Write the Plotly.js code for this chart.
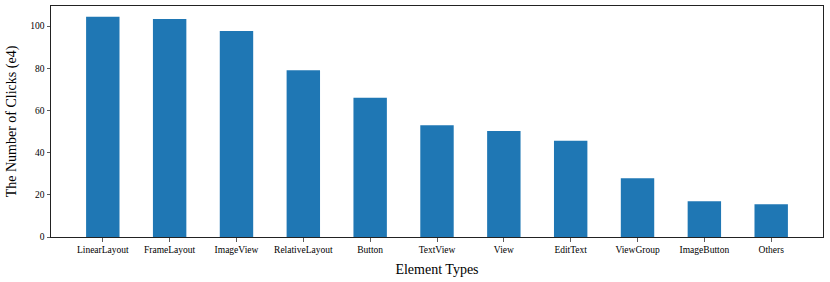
<!DOCTYPE html>
<html>
<head>
<meta charset="utf-8">
<script src="https://cdn.plot.ly/plotly-3.0.1.min.js"></script>
<style>html,body{margin:0;padding:0;background:#fff;}#chart{width:830px;height:282px;}</style>
</head>
<body>
<div id="chart"></div>
<script>
const categories = ["LinearLayout","FrameLayout","ImageView","RelativeLayout","Button","TextView","View","EditText","ViewGroup","ImageButton","Others"];
const clicks = [104.4, 103.3, 97.6, 79.1, 66.0, 53.0, 50.3, 45.6, 27.9, 16.9, 15.5];
const yTicks = [0, 20, 40, 60, 80, 100];

const font = "Liberation Serif, Times New Roman, serif";
const trace = {
  type: "bar",
  x: categories.map((_, i) => i),
  y: clicks,
  width: 0.5,
  marker: {color: "#1f77b4", line: {width: 0}},
  hoverinfo: "skip"
};
const layout = {
  width: 830, height: 282,
  margin: {l: 51, r: 7, t: 6, b: 45},
  paper_bgcolor: "#fff", plot_bgcolor: "#fff",
  showlegend: false,
  font: {family: font, color: "#000"},
  xaxis: {
    range: [-0.775, 10.775],
    tickmode: "array", tickvals: categories.map((_, i) => i), ticktext: categories,
    ticks: "outside", ticklen: 3.5, tickwidth: 0.8, tickcolor: "#333",
    tickfont: {family: font, size: 9.5, color: "#000"},
    showgrid: false, zeroline: false,
    showline: true, linecolor: "#222", linewidth: 1, mirror: true,
    title: {text: "Element Types", font: {family: font, size: 14, color: "#000"}, standoff: 10}
  },
  yaxis: {
    range: [0, 109.5],
    tickmode: "array", tickvals: yTicks,
    ticks: "outside", ticklen: 3.5, tickwidth: 0.8, tickcolor: "#333",
    tickfont: {family: font, size: 9.5, color: "#000"},
    showgrid: false, zeroline: false,
    showline: true, linecolor: "#222", linewidth: 1, mirror: true,
    title: {text: "The Number of Clicks (e4)", font: {family: font, size: 14, color: "#000"}, standoff: 10}
  }
};
Plotly.newPlot("chart", [trace], layout, {staticPlot: true, displayModeBar: false});
</script>
</body>
</html>
